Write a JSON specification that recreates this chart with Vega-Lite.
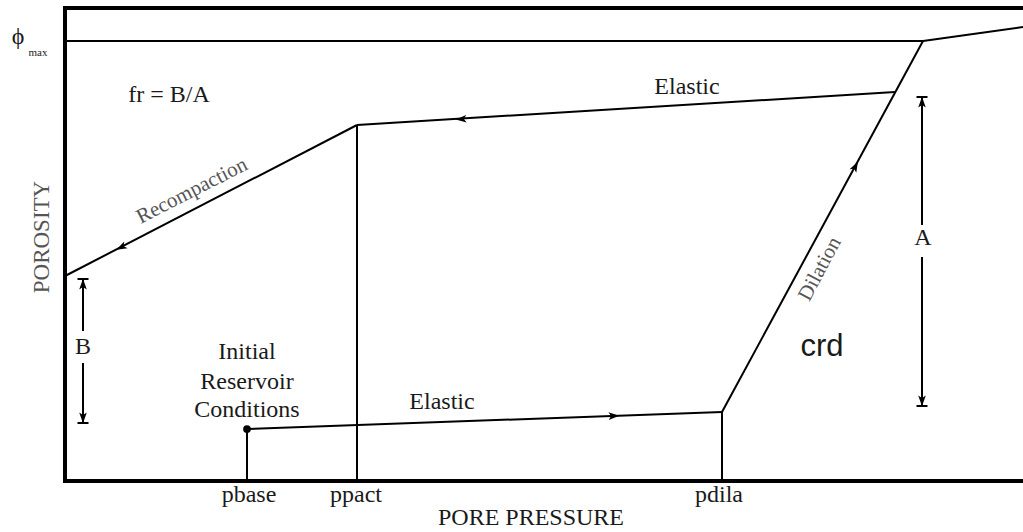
{
  "$schema": "https://vega.github.io/schema/vega-lite/v6.json",
  "width": 958,
  "height": 473,
  "autosize": {"type": "none"},
  "padding": {"left": 65, "top": 8, "right": 0, "bottom": 51},
  "background": "white",
  "config": {"view": {"stroke": null}},
  "datasets": {
    "frame": [
      {"x": 0, "y": 0, "x2": 0, "y2": 473},
      {"x": 0, "y": 473, "x2": 958, "y2": 473},
      {"x": 0, "y": 0, "x2": 958, "y2": 0}
    ],
    "paths": [
      {"seg": "phimax", "x": 0, "y": 440, "x2": 858, "y2": 440},
      {"seg": "beyond", "x": 858, "y": 440, "x2": 958, "y2": 454},
      {"seg": "dilation", "x": 657, "y": 69, "x2": 858, "y2": 440},
      {"seg": "elastic-upper", "x": 830, "y": 389, "x2": 292, "y2": 356},
      {"seg": "recompaction", "x": 292, "y": 356, "x2": 0, "y2": 205},
      {"seg": "ppact", "x": 292, "y": 356, "x2": 292, "y2": 0},
      {"seg": "pbase", "x": 182, "y": 52, "x2": 182, "y2": 0},
      {"seg": "elastic-lower", "x": 182, "y": 52, "x2": 657, "y2": 69},
      {"seg": "pdila", "x": 657, "y": 69, "x2": 657, "y2": 0},
      {"seg": "A-top", "x": 857, "y": 384, "x2": 857, "y2": 256},
      {"seg": "A-bottom", "x": 857, "y": 224, "x2": 857, "y2": 75},
      {"seg": "B-top", "x": 18, "y": 202, "x2": 18, "y2": 150},
      {"seg": "B-bottom", "x": 18, "y": 118, "x2": 18, "y2": 58}
    ],
    "arrows": [
      {"x": 397, "y": 362, "heading": 266.5},
      {"x": 57, "y": 234, "heading": 243},
      {"x": 790, "y": 314, "heading": 28},
      {"x": 548, "y": 65, "heading": 88},
      {"x": 857, "y": 378, "heading": 0},
      {"x": 857, "y": 81, "heading": 180},
      {"x": 18, "y": 196, "heading": 0},
      {"x": 18, "y": 64, "heading": 180}
    ],
    "bars": [
      {"x": 857, "y": 384},
      {"x": 857, "y": 75},
      {"x": 18, "y": 202},
      {"x": 18, "y": 58}
    ],
    "initial": [{"x": 182, "y": 52}],
    "labels": [
      {"x": 104, "y": 386, "t": "fr = B/A"},
      {"x": 622, "y": 394, "t": "Elastic"},
      {"x": 182, "y": 129, "t": "Initial"},
      {"x": 182, "y": 99, "t": "Reservoir"},
      {"x": 182, "y": 71, "t": "Conditions"},
      {"x": 377, "y": 79, "t": "Elastic"},
      {"x": 858, "y": 243, "t": "A"},
      {"x": 18, "y": 134, "t": "B"},
      {"x": 184, "y": -14, "t": "pbase"},
      {"x": 291, "y": -14, "t": "ppact"},
      {"x": 654, "y": -14, "t": "pdila"},
      {"x": 466, "y": -37, "t": "PORE PRESSURE"},
      {"x": -47, "y": 444, "t": "ϕ"}
    ]
  },
  "encoding": {
    "x": {"field": "x", "type": "quantitative", "scale": {"domain": [0, 958], "nice": false, "zero": false}, "axis": null},
    "y": {"field": "y", "type": "quantitative", "scale": {"domain": [0, 473], "nice": false, "zero": false}, "axis": null}
  },
  "layer": [
    {
      "data": {"name": "frame"},
      "mark": {"type": "rule", "strokeWidth": 4, "color": "#000", "strokeCap": "square"},
      "encoding": {"x2": {"field": "x2"}, "y2": {"field": "y2"}}
    },
    {
      "data": {"name": "paths"},
      "mark": {"type": "rule", "strokeWidth": 2, "color": "#000"},
      "encoding": {"x2": {"field": "x2"}, "y2": {"field": "y2"}}
    },
    {
      "data": {"name": "bars"},
      "mark": {"type": "tick", "orient": "horizontal", "size": 11, "thickness": 2, "color": "#000", "opacity": 1}
    },
    {
      "data": {"name": "arrows"},
      "mark": {"type": "point", "shape": "M0,-1L0.6,0.7L0,0.3L-0.6,0.7Z", "filled": true, "size": 160, "color": "#000", "opacity": 1},
      "encoding": {"angle": {"field": "heading", "type": "quantitative", "scale": {"domain": [0, 360], "range": [0, 360]}, "legend": null}}
    },
    {
      "data": {"name": "initial"},
      "mark": {"type": "point", "shape": "circle", "filled": true, "size": 60, "color": "#000", "opacity": 1}
    },
    {
      "data": {"name": "labels"},
      "mark": {"type": "text", "font": "Liberation Serif", "fontSize": 24, "color": "#1a1a1a", "baseline": "middle", "align": "center"},
      "encoding": {"text": {"field": "t"}}
    },
    {
      "data": {"values": [{"x": -27, "y": 428, "t": "max"}]},
      "mark": {"type": "text", "font": "Liberation Serif", "fontSize": 11, "color": "#1a1a1a", "baseline": "middle", "align": "center"},
      "encoding": {"text": {"field": "t"}}
    },
    {
      "data": {"values": [{"x": 127, "y": 290, "t": "Recompaction"}]},
      "mark": {"type": "text", "font": "Liberation Serif", "fontSize": 21, "color": "#555", "baseline": "middle", "align": "center", "angle": 333},
      "encoding": {"text": {"field": "t"}}
    },
    {
      "data": {"values": [{"x": 755, "y": 212, "t": "Dilation"}]},
      "mark": {"type": "text", "font": "Liberation Serif", "fontSize": 21, "color": "#555", "baseline": "middle", "align": "center", "angle": 298},
      "encoding": {"text": {"field": "t"}}
    },
    {
      "data": {"values": [{"x": -23, "y": 244, "t": "POROSITY"}]},
      "mark": {"type": "text", "font": "Liberation Serif", "fontSize": 23, "color": "#555", "baseline": "middle", "align": "center", "angle": 270},
      "encoding": {"text": {"field": "t"}}
    },
    {
      "data": {"values": [{"x": 757, "y": 134, "t": "crd"}]},
      "mark": {"type": "text", "font": "Liberation Sans", "fontSize": 31, "color": "#1a1a1a", "baseline": "middle", "align": "center"},
      "encoding": {"text": {"field": "t"}}
    }
  ]
}
